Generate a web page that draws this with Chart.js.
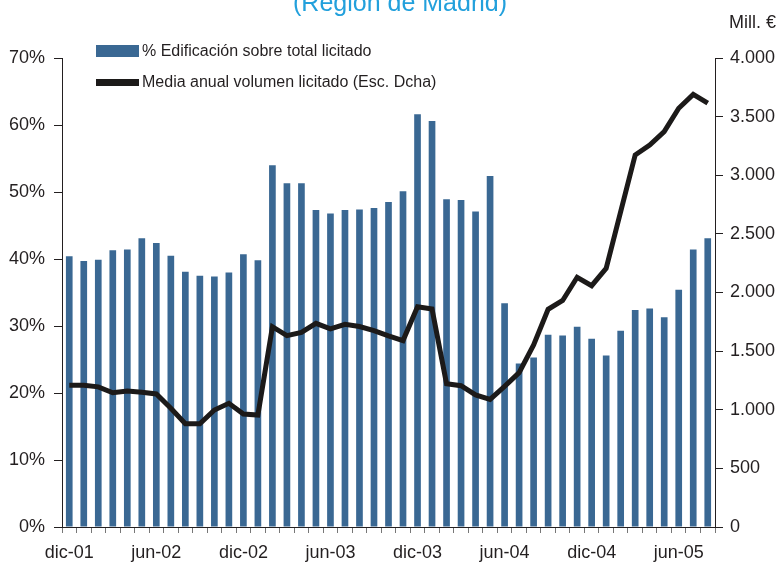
<!DOCTYPE html>
<html>
<head>
<meta charset="UTF-8">
<title>Edificación sobre total licitado</title>
<style>
body { margin: 0; background: #fff; }
.wrap {
	position: relative;
	width: 780px;
	height: 562px;
	overflow: hidden;
	font-family: "Liberation Sans", Arial, sans-serif;
	color: #231f20;
}
.wrap canvas { position: absolute; left: 0; top: 0; }
.title {
	position: absolute; left: 0; width: 800px; top: -12px;
	text-align: center; font-size: 25px; color: #22a0dc;
}
.unit { position: absolute; right: 4px; top: 12px; font-size: 18px; }
.legend-item { position: absolute; left: 96px; font-size: 16px; height: 20px; line-height: 20px; }
.legend-item .box { position: absolute; left: 0; }
.legend-item .txt { position: absolute; left: 46px; white-space: nowrap; }
</style>
<script src="https://cdn.jsdelivr.net/npm/chart.js"></script>
</head>
<body>
<div class="wrap">
	<canvas id="chart" width="780" height="562"></canvas>
	<div class="title">(Región de Madrid)</div>
	<div class="unit">Mill. €</div>
	<div id="legend"></div>
</div>
<script>
const months = ['dic-01',
	'ene-02','feb-02','mar-02','abr-02','may-02','jun-02','jul-02','ago-02','sep-02','oct-02','nov-02','dic-02',
	'ene-03','feb-03','mar-03','abr-03','may-03','jun-03','jul-03','ago-03','sep-03','oct-03','nov-03','dic-03',
	'ene-04','feb-04','mar-04','abr-04','may-04','jun-04','jul-04','ago-04','sep-04','oct-04','nov-04','dic-04',
	'ene-05','feb-05','mar-05','abr-05','may-05','jun-05','jul-05','ago-05'];

// % edificación sobre total licitado (eje izq.)
const pctEdificacion = [40.4,
	39.7, 39.9, 41.3, 41.4, 43.1, 42.4, 40.5, 38.1, 37.5, 37.4, 38.0, 40.7,
	39.8, 54.0, 51.3, 51.3, 47.3, 46.8, 47.3, 47.4, 47.6, 48.5, 50.1, 61.6,
	60.6, 48.9, 48.8, 47.1, 52.4, 33.4, 24.4, 25.3, 28.7, 28.6, 29.9, 28.1,
	25.6, 29.3, 32.4, 32.6, 31.3, 35.4, 41.4, 43.1];

// media anual volumen licitado, mill. € (eje dcho.)
const mediaAnual = [1208,
	1208, 1195, 1145, 1160, 1150, 1135, 1012, 880, 880, 998, 1055, 964,
	955, 1708, 1632, 1660, 1737, 1690, 1729, 1710, 1675, 1630, 1590, 1879,
	1860, 1222, 1205, 1126, 1088, 1200, 1316, 1552, 1857, 1932, 2130, 2058,
	2206, 2690, 3173, 3258, 3372, 3571, 3690, 3615];

const leftTicks = [0, 10, 20, 30, 40, 50, 60, 70];
const rightTicks = [0, 500, 1000, 1500, 2000, 2500, 3000, 3500, 4000];

const barColor = '#3a6893';
const lineColor = '#1c1a19';
const txt = '#231f20';
const tickFont = { family: '"Liberation Sans", Arial, sans-serif', size: 18 };

function miles(v) {
	return String(v).replace(/\B(?=(\d{3})+(?!\d))/g, '.');
}

const datasets = [
	{
		type: 'line',
		label: 'Media anual volumen licitado (Esc. Dcha)',
		data: mediaAnual,
		yAxisID: 'y2',
		borderColor: lineColor,
		backgroundColor: lineColor,
		borderWidth: 5,
		pointRadius: 0,
		tension: 0,
		order: 0
	},
	{
		type: 'bar',
		label: '% Edificación sobre total licitado',
		data: pctEdificacion,
		yAxisID: 'y',
		backgroundColor: barColor,
		barPercentage: 0.46,
		categoryPercentage: 1,
		order: 1
	}
];

// leyenda en html, dentro del área del gráfico
const legend = document.getElementById('legend');
[
	{ ds: datasets[1], top: 41, h: 12 },
	{ ds: datasets[0], top: 72, h: 7 }
].forEach(it => {
	const d = document.createElement('div');
	d.className = 'legend-item';
	d.style.top = it.top + 'px';
	const b = document.createElement('div');
	b.className = 'box';
	b.style.width = '43px';
	b.style.height = it.h + 'px';
	b.style.top = (10 - it.h / 2) + 'px';
	b.style.background = it.ds.backgroundColor;
	const t = document.createElement('span');
	t.className = 'txt';
	t.textContent = it.ds.label;
	d.appendChild(b);
	d.appendChild(t);
	legend.appendChild(d);
});

new Chart(document.getElementById('chart'), {
	data: { labels: months, datasets: datasets },
	options: {
		responsive: false,
		animation: false,
		layout: { padding: { top: 58, left: 0, right: 0, bottom: 0 } },
		plugins: { legend: { display: false }, tooltip: { enabled: false } },
		scales: {
			x: {
				type: 'category',
				offset: true,
				afterFit: s => { s.height = 35; },
				grid: { offset: true, drawOnChartArea: false, tickLength: 6, color: '#777' },
				border: { color: txt, width: 1 },
				ticks: {
					autoSkip: false, maxRotation: 0, minRotation: 0, padding: 9,
					color: txt, font: tickFont,
					callback: function (v, i) { return i % 6 === 0 ? months[i] : ''; }
				}
			},
			y: {
				position: 'left',
				min: 0, max: 70,
				afterFit: s => { s.width = 62; },
				afterBuildTicks: s => { s.ticks = leftTicks.map(v => ({ value: v })); },
				grid: { drawOnChartArea: false, tickLength: 8, color: txt },
				border: { color: txt, width: 1 },
				ticks: { color: txt, font: tickFont, padding: 9, callback: v => v + '%' }
			},
			y2: {
				position: 'right',
				min: 0, max: 4000,
				afterFit: s => { s.width = 65; },
				afterBuildTicks: s => { s.ticks = rightTicks.map(v => ({ value: v })); },
				grid: { drawOnChartArea: false, tickLength: 8, color: txt },
				border: { color: txt, width: 1 },
				ticks: { color: txt, font: tickFont, padding: 7, callback: v => miles(v) }
			}
		}
	}
});
</script>
</body>
</html>
